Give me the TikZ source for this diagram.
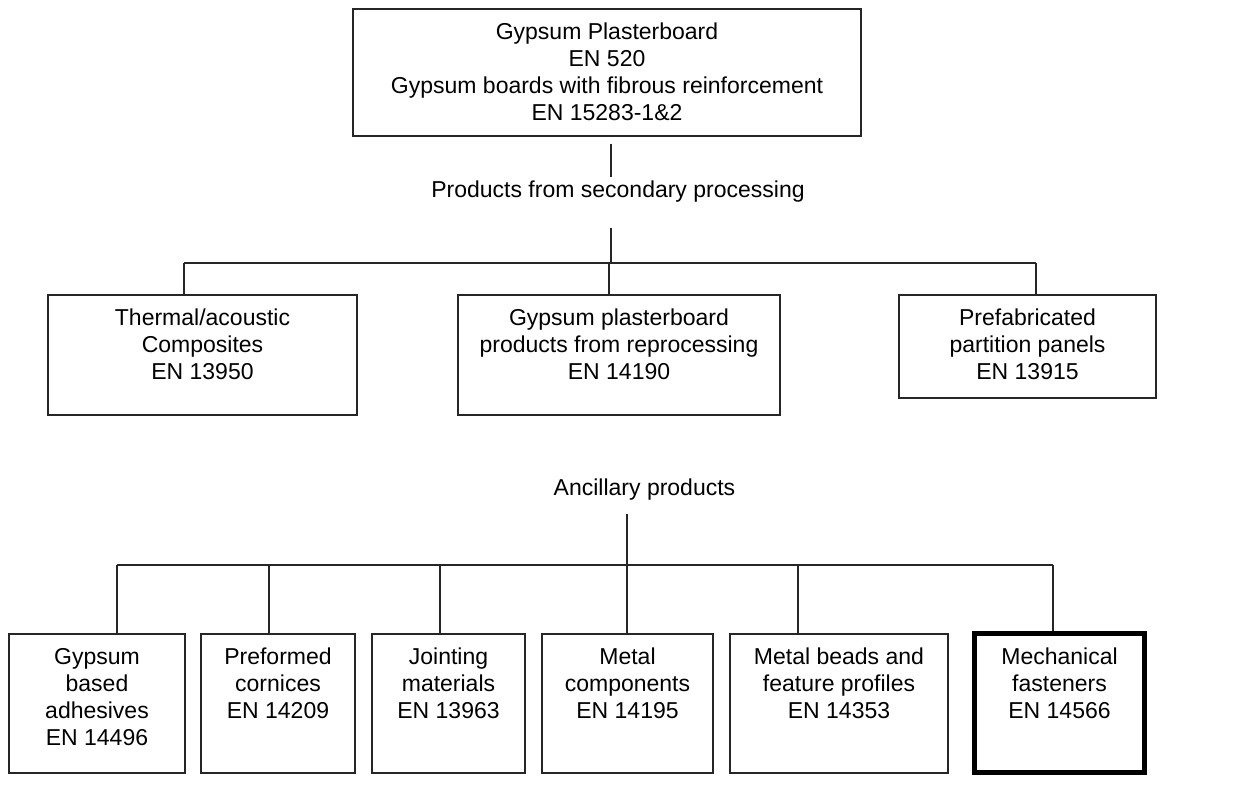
\documentclass[tikz,border=0pt]{standalone}
\usepackage{fontspec}
\setmainfont{Liberation Sans}
\usepackage{tikz}
\usetikzlibrary{positioning}

% box text: width, height, lines (set at the top of the box)
\newcommand{\boxlines}[3]{\parbox[c][#2][t]{#1}{\centering\vspace*{12pt}\strut#3}}

\begin{document}
\begin{tikzpicture}[
  x=1pt, y=-1pt,
  font=\fontsize{23}{27}\selectfont,
  line width=1.2pt
]
\tikzset{
    stdbox/.style = {rectangle, draw=black!85, inner sep=0pt},
    thickbox/.style = {stdbox, draw=black, line width=5pt},
    caption/.style = {anchor=base, inner sep=3pt},
    link/.style = {draw=black!85}
}
\useasboundingbox (0,0) rectangle (1244,793);

% main product
\node[stdbox] (top) at (607,72.5) {\boxlines{508pt}{127pt}{Gypsum Plasterboard\\EN 520\\Gypsum boards with fibrous reinforcement\\EN 15283-1\&2}};
\node[caption] (secproc) at (618,197) {Products from secondary processing};

% secondary processing
\node[stdbox] (thermal) at (202.5,355) {\boxlines{309pt}{120pt}{Thermal/acoustic\\Composites\\EN 13950}};
\node[stdbox] (reproc) at (619,355) {\boxlines{322pt}{120pt}{Gypsum plasterboard\\products from reprocessing\\EN 14190}};
\node[stdbox] (panels) at (1027.5,346.5) {\boxlines{257pt}{103pt}{Prefabricated\\partition panels\\EN 13915}};

% ancillary products
\node[caption] (ancil) at (644.5,495) {Ancillary products};
\node[stdbox] (adhes) at (97,703.5) {\boxlines{176pt}{139pt}{Gypsum\\based\\adhesives\\EN 14496}};
\node[stdbox] (cornice) at (278,703.5) {\boxlines{154pt}{139pt}{Preformed\\cornices\\EN 14209}};
\node[stdbox] (jointing) at (448.5,703.5) {\boxlines{153pt}{139pt}{Jointing\\materials\\EN 13963}};
\node[stdbox] (metal) at (627.5,703.5) {\boxlines{171pt}{139pt}{Metal\\components\\EN 14195}};
\node[stdbox] (beads) at (839,703.5) {\boxlines{218pt}{139pt}{Metal beads and\\feature profiles\\EN 14353}};
\node[thickbox] (fasten) at (1059.5,703) {\boxlines{170pt}{139pt}{Mechanical\\fasteners\\EN 14566}};

% joints
\coordinate (secjoin) at (611,263);
\coordinate (s1) at (184,263);
\coordinate (s2) at (609,263);
\coordinate (s3) at (1036,263);
\coordinate (ancjoin) at (627,565);
\coordinate (a1) at (117,565);
\coordinate (a2) at (269,565);
\coordinate (a3) at (440,565);
\coordinate (a4) at (627,565);
\coordinate (a5) at (798,565);
\coordinate (a6) at (1053,565);

\draw[link] ([yshift=-7pt]top.south -| secjoin) -- (secproc.north -| secjoin);
\draw[link] ([yshift=-23pt]secproc.south -| secjoin) -- (secjoin);
\draw[link] (s1) -- (s3);
\draw[link] (s1) -- (s1 |- thermal.north);
\draw[link] (s2) -- (s2 |- reproc.north);
\draw[link] (s3) -- (s3 |- panels.north);

\draw[link] ([yshift=-11pt]ancil.south -| ancjoin) -- (ancjoin);
\draw[link] (a1) -- (a6);
\draw[link] (a1) -- (a1 |- adhes.north);
\draw[link] (a2) -- (a2 |- cornice.north);
\draw[link] (a3) -- (a3 |- jointing.north);
\draw[link] (a4) -- (a4 |- metal.north);
\draw[link] (a5) -- (a5 |- beads.north);
\draw[link] (a6) -- (a6 |- fasten.north);
\end{tikzpicture}
\end{document}
